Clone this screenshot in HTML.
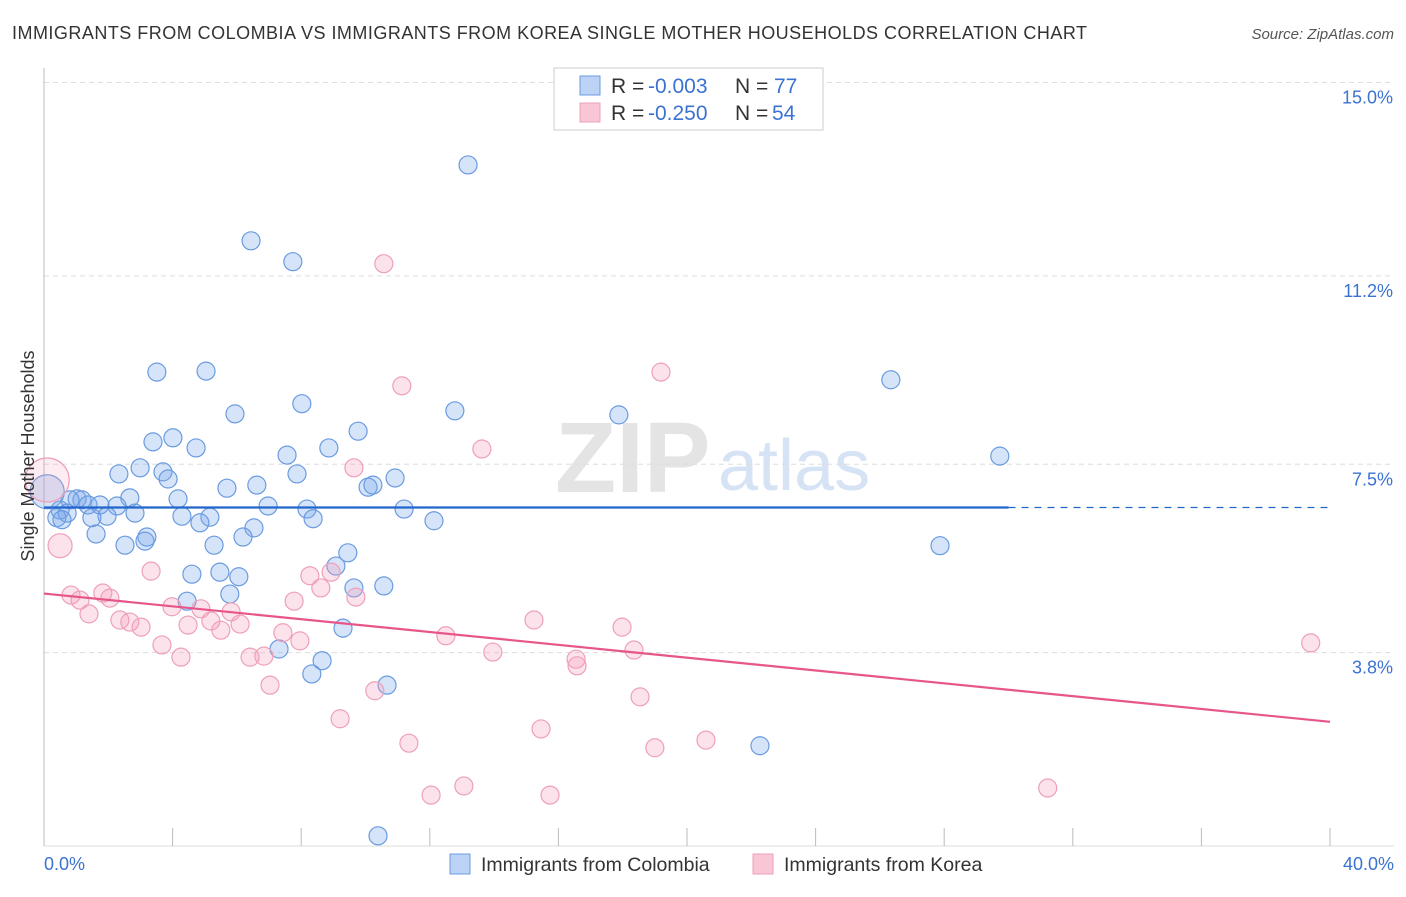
<!DOCTYPE html>
<html><head><meta charset="utf-8"><style>
body{margin:0;background:#fff;font-family:"Liberation Sans",sans-serif;}
svg text{font-family:"Liberation Sans",sans-serif;}
</style></head><body>
<svg id="chart" width="1406" height="892">
<text x="12" y="39" font-size="18" fill="#333" textLength="1075" lengthAdjust="spacing">IMMIGRANTS FROM COLOMBIA VS IMMIGRANTS FROM KOREA SINGLE MOTHER HOUSEHOLDS CORRELATION CHART</text>
<text x="1394" y="39" font-size="15" fill="#555" font-style="italic" text-anchor="end">Source: ZipAtlas.com</text>
<g>
<text x="555" y="492" font-size="100" font-family="Liberation Serif" font-weight="bold" fill="#e4e4e4">ZIP</text>
<text x="718" y="490" font-size="72" fill="#d6e3f5">atlas</text>
</g>
<g id="grid"></g><g id="axes"></g><g id="marks"></g>
<g>
<rect x="554" y="68" width="269" height="62" fill="#fff" stroke="#ccc"/>
<rect x="580" y="76" width="20" height="19" fill="#bcd3f5" stroke="#6a9be0"/>
<text x="611" y="93" font-size="21" fill="#333">R = <tspan x="648" fill="#3b73d1">-0.003</tspan><tspan x="735">N = </tspan><tspan x="774" fill="#3b73d1">77</tspan></text>
<rect x="580" y="103" width="20" height="19" fill="#f8c6d5" stroke="#eea0b8"/>
<text x="611" y="120" font-size="21" fill="#333">R = <tspan x="648" fill="#3b73d1">-0.250</tspan><tspan x="735">N = </tspan><tspan x="772" fill="#3b73d1">54</tspan></text>
</g>
<g>
<rect x="450" y="854" width="20" height="20" fill="#bcd3f5" stroke="#6a9be0"/>
<text x="481" y="871" font-size="19.5" fill="#333">Immigrants from Colombia</text>
<rect x="753" y="854" width="20" height="20" fill="#f8c6d5" stroke="#eea0b8"/>
<text x="784" y="871" font-size="19.5" fill="#333">Immigrants from Korea</text>
</g>
<text transform="translate(34,456) rotate(-90)" font-size="18" fill="#333" text-anchor="middle">Single Mother Households</text>
</svg>
<script>
const yTicks=[3.8,7.5,11.2,15.0];
const yTickLabels=["3.8%","7.5%","11.2%","15.0%"];
const xTicks=[0,4,8,12,16,20,24,28,32,36,40];
const colX=[13.19,6.44,7.74,3.51,5.04,26.34,8.02,12.78,17.88,5.94,9.77,3.39,4.01,4.73,8.86,7.56,29.73,2.33,2.99,3.70,3.86,7.87,10.92,5.69,6.62,10.08,10.23,2.67,4.17,1.03,1.18,0.81,1.37,1.74,2.27,0.50,0.72,2.83,8.18,11.20,4.29,5.16,6.97,1.96,1.49,0.40,0.56,8.37,12.13,4.85,6.53,1.62,6.19,3.20,3.14,2.52,5.29,27.87,9.45,9.08,4.60,5.47,6.06,9.64,10.57,4.45,5.78,9.30,7.31,8.65,8.33,10.67,22.27,10.39,0.1];
const colY=[13.38,11.89,11.48,9.31,9.33,9.16,8.69,8.55,8.47,8.49,8.15,7.94,8.02,7.82,7.82,7.68,7.66,7.31,7.43,7.35,7.21,7.31,7.23,7.03,7.09,7.05,7.09,6.84,6.82,6.82,6.80,6.80,6.70,6.70,6.68,6.60,6.54,6.54,6.62,6.62,6.48,6.46,6.68,6.48,6.45,6.45,6.41,6.43,6.39,6.35,6.25,6.13,6.07,6.07,5.99,5.91,5.91,5.90,5.76,5.50,5.34,5.38,5.29,5.07,5.11,4.81,4.95,4.28,3.87,3.64,3.38,3.16,1.97,0.20,6.96];
const korX=[0.1,0.50,10.57,19.19,11.13,13.62,9.64,3.33,8.93,8.27,8.61,0.84,1.12,1.83,2.05,9.70,7.78,3.98,4.88,5.82,1.40,2.36,2.67,3.02,4.48,5.19,6.10,5.50,15.24,17.98,7.43,7.96,12.50,3.67,4.26,6.41,6.84,13.96,16.55,16.58,18.35,7.03,10.29,18.54,9.21,15.46,11.35,20.59,19.00,12.04,13.06,15.74,31.22,39.40];
const korY=[7.19,5.90,11.44,9.31,9.04,7.80,7.43,5.40,5.38,5.31,5.07,4.93,4.83,4.97,4.87,4.89,4.81,4.70,4.66,4.60,4.56,4.44,4.40,4.30,4.34,4.42,4.36,4.24,4.44,4.30,4.19,4.03,4.13,3.95,3.71,3.71,3.73,3.81,3.67,3.54,3.85,3.16,3.05,2.93,2.50,2.30,2.02,2.08,1.93,1.00,1.18,1.00,1.14,3.99];
const colTrend=[6.65,6.65];
const korTrend=[4.96,2.44];
const X=v=>44+v*32.15, Y=v=>846-v*50.9;
const NS="http://www.w3.org/2000/svg";
function mk(p,t,a){const e=document.createElementNS(NS,t);for(const k in a)e.setAttribute(k,a[k]);p.appendChild(e);return e;}
const grid=document.getElementById('grid'),axes=document.getElementById('axes'),marks=document.getElementById('marks');
yTicks.forEach((v,i)=>{
 const l=mk(grid,'line',{x1:44,x2:1394,y1:Y(v),y2:Y(v),stroke:'#ddd','stroke-dasharray':'5,4'});
 
 
 const t=mk(axes,'text',{x:1393,y:Y(v)+21,'font-size':18,fill:'#3b73d1','text-anchor':'end'});
 t.textContent=yTickLabels[i];
 
 
});
const ya=mk(axes,'line',{x1:44,x2:44,y1:68,y2:846,stroke:'#bbb'});


const xa=mk(axes,'line',{x1:44,x2:1394,y1:846,y2:846,stroke:'#ddd'});


xTicks.forEach(v=>{
 const l=mk(axes,'line',{x1:X(v),x2:X(v),y1:828,y2:846,stroke:'#bbb'});
 
 
});
const x0=mk(axes,'text',{x:44,y:870,'font-size':18,fill:'#3b73d1'});x0.textContent='0.0%';


const x1=mk(axes,'text',{x:1394,y:870,'font-size':18,fill:'#3b73d1','text-anchor':'end'});x1.textContent='40.0%';


colX.forEach((v,i)=>{
 const big=i===colX.length-1;
 const c=mk(marks,'circle',{cx:X(v),cy:Y(colY[i]),r:big?17:9,fill:'rgba(120,165,235,0.3)',stroke:'#6a9be0','stroke-width':1.2});
 
 
});
korX.forEach((v,i)=>{
 const r=i===0?22:(i===1?12:9);
 const c=mk(marks,'circle',{cx:X(v),cy:Y(korY[i]),r:r,fill:i===0?'rgba(245,160,190,0.2)':'rgba(245,160,190,0.3)',stroke:'#eea0b8','stroke-width':1.2});
 
 
});
const ct=(x)=>colTrend[0]+(colTrend[1]-colTrend[0])*x/40;
const b1=mk(marks,'line',{x1:X(0),y1:Y(ct(0)),x2:X(30),y2:Y(ct(30)),stroke:'#2266cc','stroke-width':2.2});


const b2=mk(marks,'line',{x1:X(30),y1:Y(ct(30)),x2:X(40),y2:Y(ct(40)),stroke:'#2266cc','stroke-width':1.2,'stroke-dasharray':'7,6'});


const p1=mk(marks,'line',{x1:X(0),y1:Y(korTrend[0]),x2:X(40),y2:Y(korTrend[1]),stroke:'#e8558a','stroke-width':2.2});


</script>
</body></html>
